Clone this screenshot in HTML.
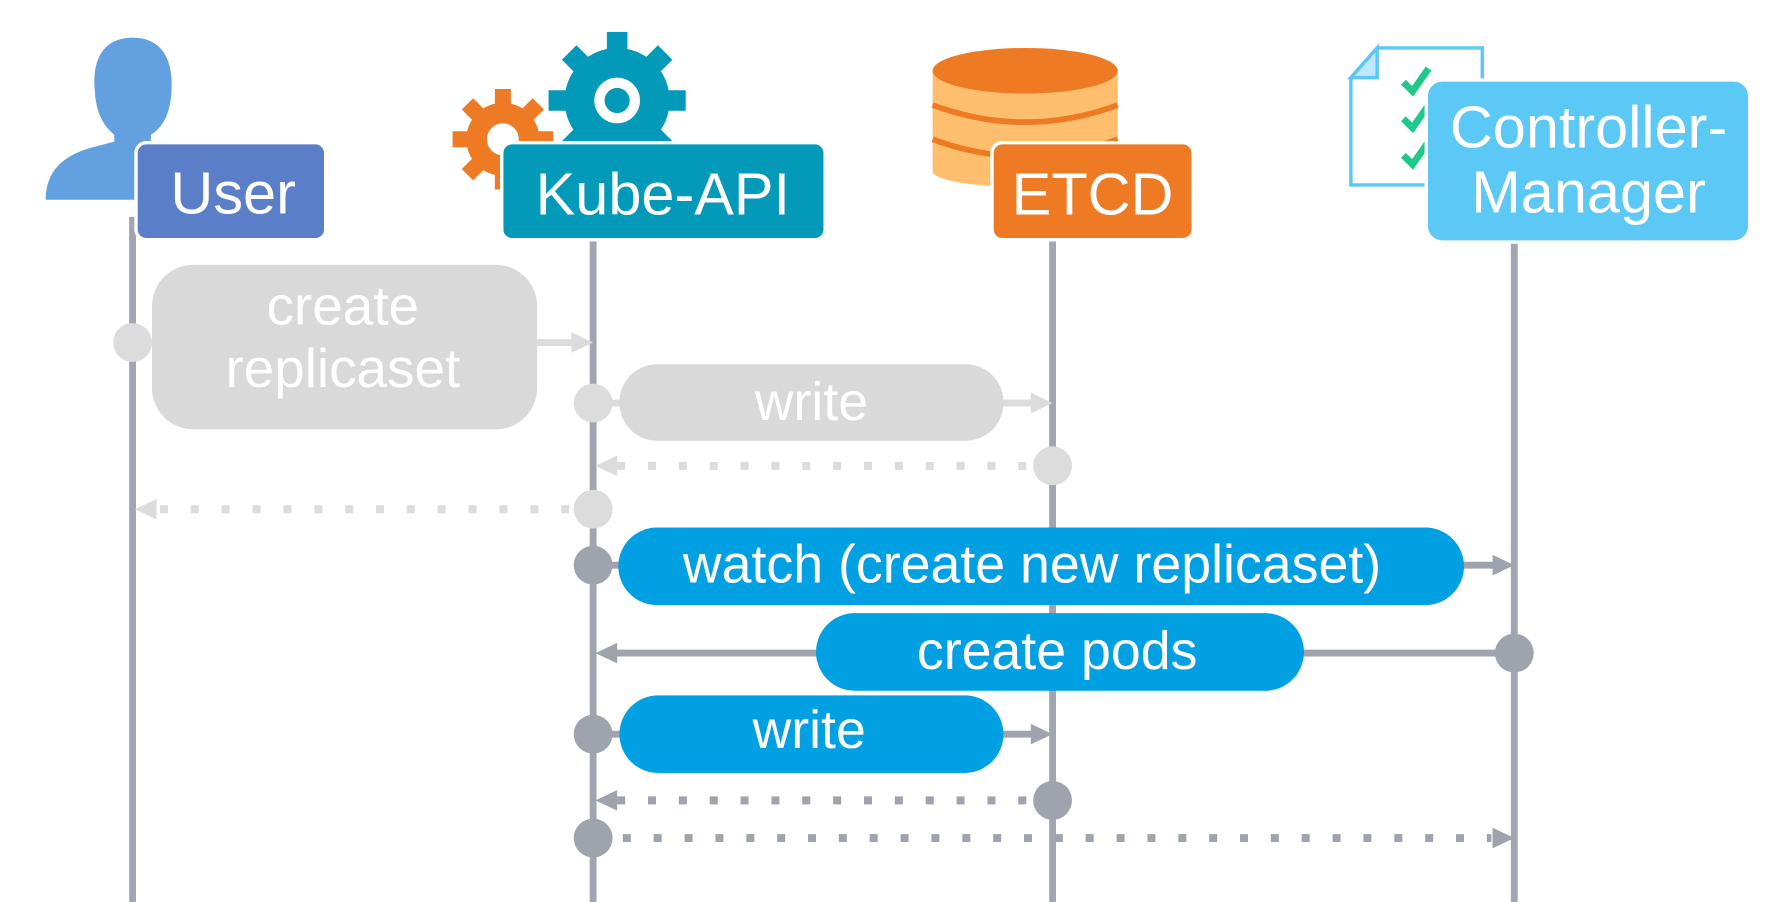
<!DOCTYPE html>
<html><head><meta charset="utf-8"><style>
html,body{margin:0;padding:0;background:#fff;}
svg{display:block;}
text{font-family:"Liberation Sans",sans-serif;fill:#fff;}
</style></head><body>
<svg width="1792" height="902" viewBox="0 0 1568 790" preserveAspectRatio="none" xmlns="http://www.w3.org/2000/svg">
<!-- lifelines -->
<g stroke="#a0a5b0" stroke-width="6">
<line x1="116" y1="190" x2="116" y2="790"/>
<line x1="519" y1="210" x2="519" y2="790"/>
<line x1="921" y1="210" x2="921" y2="790"/>
<line x1="1325" y1="210" x2="1325" y2="790"/>
</g>
<!-- user icon -->
<path d="M116,33 C140,33 152,50 150,80 C149,100 142,112 132,118 L132,125 L150,130 L150,175 L40,175 C40,150 55,135 85,128 L100,124 L100,118 C90,110 84,98 83,80 C80,50 92,33 116,33z" fill="#62a0e0"/>
<rect x="119" y="125" width="166" height="85" rx="9" fill="#5b7ec8" stroke="#fff" stroke-width="3"/>
<text x="204" y="187" font-size="52" text-anchor="middle">User</text>
<!-- gears -->
<g fill="#ee7a24"><circle cx="440" cy="122" r="32"/>
<g stroke="#ee7a24" stroke-width="14"><line x1="440" y1="78" x2="440" y2="166"/><line x1="396" y1="122" x2="484" y2="122"/><line x1="409" y1="91" x2="471" y2="153"/><line x1="409" y1="153" x2="471" y2="91"/></g></g>
<circle cx="440" cy="122" r="14" fill="#fff"/>
<g fill="#0399b8"><circle cx="540" cy="88" r="46"/>
<g stroke="#0399b8" stroke-width="18"><line x1="540" y1="28" x2="540" y2="148"/><line x1="480" y1="88" x2="600" y2="88"/><line x1="498" y1="46" x2="582" y2="130"/><line x1="498" y1="130" x2="582" y2="46"/></g></g>
<circle cx="540" cy="88" r="20" fill="#fff"/><circle cx="540" cy="88" r="11" fill="#0399b8"/>
<rect x="439" y="125" width="283" height="85" rx="9" fill="#0399b8" stroke="#fff" stroke-width="3"/>
<text x="580" y="188" font-size="52" text-anchor="middle">Kube-API</text>
<!-- etcd cylinder -->
<rect x="816" y="60" width="162" height="90" fill="#fdbf6e"/>
<ellipse cx="897" cy="150" rx="81" ry="14" fill="#fdbf6e"/>
<path d="M816,92 Q897,122 978,92" stroke="#ee7a24" stroke-width="5" fill="none"/>
<path d="M816,122 Q897,152 978,122" stroke="#ee7a24" stroke-width="5" fill="none"/>
<ellipse cx="897" cy="62" rx="81" ry="20" fill="#ee7a24"/>
<rect x="868" y="125" width="176" height="85" rx="9" fill="#ee7a24" stroke="#fff" stroke-width="3"/>
<text x="956" y="188" font-size="52" text-anchor="middle">ETCD</text>
<!-- doc icon -->
<path d="M1205,42 L1297,42 L1297,162 L1182,162 L1182,68z" fill="#fff" stroke="#5bc8f5" stroke-width="3"/>
<path d="M1182,68 L1205,68 L1205,42z" fill="#bfe9fb" stroke="#5bc8f5" stroke-width="3"/>
<g stroke="#1fc98a" stroke-width="6" fill="none"><path d="M1228,72 l8,8 l14,-20"/><path d="M1228,104 l8,8 l14,-20"/><path d="M1228,136 l8,8 l14,-20"/></g>
<rect x="1248" y="70" width="283" height="142" rx="14" fill="#5bc8f5" stroke="#fff" stroke-width="3"/>
<text x="1390" y="129" font-size="52" text-anchor="middle">Controller-</text>
<text x="1390" y="186" font-size="52" text-anchor="middle">Manager</text>
<!-- msg 1 -->
<line x1="470" y1="300" x2="510" y2="300" stroke="#dcdcdc" stroke-width="6"/>
<path d="M500,291 L519,300 L500,309z" fill="#dcdcdc"/>
<circle cx="116" cy="300" r="17" fill="#dcdcdc"/>
<rect x="133" y="232" width="337" height="144" rx="36" fill="#d9d9d9"/>
<text x="300" y="284" font-size="48" text-anchor="middle">create</text>
<text x="300" y="339" font-size="48" text-anchor="middle">replicaset</text>
<!-- msg 2 -->
<line x1="519" y1="353" x2="912" y2="353" stroke="#dcdcdc" stroke-width="6"/>
<path d="M902,344 L921,353 L902,362z" fill="#dcdcdc"/>
<circle cx="519" cy="353" r="17" fill="#dcdcdc"/>
<rect x="542" y="319" width="336" height="67" rx="33" fill="#d9d9d9"/>
<text x="710" y="368" font-size="47" text-anchor="middle">write</text>
<!-- msg 3 -->
<line x1="540" y1="408" x2="905" y2="408" stroke="#dcdcdc" stroke-width="7" stroke-dasharray="7,20"/>
<path d="M540,399 L521,408 L540,417z" fill="#dcdcdc"/>
<circle cx="921" cy="408" r="17" fill="#dcdcdc"/>
<!-- msg 4 -->
<line x1="140" y1="446" x2="505" y2="446" stroke="#dcdcdc" stroke-width="7" stroke-dasharray="7,20"/>
<path d="M137,437 L118,446 L137,455z" fill="#dcdcdc"/>
<circle cx="519" cy="446" r="17" fill="#dcdcdc"/>
<!-- msg 5 -->
<line x1="519" y1="495" x2="1316" y2="495" stroke="#9ea3ae" stroke-width="6"/>
<path d="M1306,486 L1325,495 L1306,504z" fill="#9ea3ae"/>
<circle cx="519" cy="495" r="17" fill="#9ea3ae"/>
<rect x="541" y="462" width="740" height="68" rx="34" fill="#00a0e3"/>
<text x="903" y="510" font-size="47" text-anchor="middle">watch (create new replicaset)</text>
<!-- msg 6 -->
<line x1="528" y1="572" x2="1325" y2="572" stroke="#9ea3ae" stroke-width="6"/>
<path d="M540,563 L521,572 L540,581z" fill="#9ea3ae"/>
<circle cx="1325" cy="572" r="17" fill="#9ea3ae"/>
<rect x="714" y="537" width="427" height="68" rx="34" fill="#00a0e3"/>
<text x="925" y="586" font-size="47" text-anchor="middle">create pods</text>
<!-- msg 7 -->
<line x1="519" y1="643" x2="912" y2="643" stroke="#9ea3ae" stroke-width="6"/>
<path d="M902,634 L921,643 L902,652z" fill="#9ea3ae"/>
<circle cx="519" cy="643" r="17" fill="#9ea3ae"/>
<rect x="542" y="609" width="336" height="68" rx="34" fill="#00a0e3"/>
<text x="708" y="655" font-size="47" text-anchor="middle">write</text>
<!-- msg 8 -->
<line x1="540" y1="701" x2="905" y2="701" stroke="#9ea3ae" stroke-width="7" stroke-dasharray="7,20"/>
<path d="M540,692 L521,701 L540,710z" fill="#9ea3ae"/>
<circle cx="921" cy="701" r="17" fill="#9ea3ae"/>
<!-- msg 9 -->
<line x1="545" y1="734" x2="1305" y2="734" stroke="#9ea3ae" stroke-width="7" stroke-dasharray="7,20"/>
<path d="M1306,725 L1325,734 L1306,743z" fill="#9ea3ae"/>
<circle cx="519" cy="734" r="17" fill="#9ea3ae"/>
</svg>
</body></html>
